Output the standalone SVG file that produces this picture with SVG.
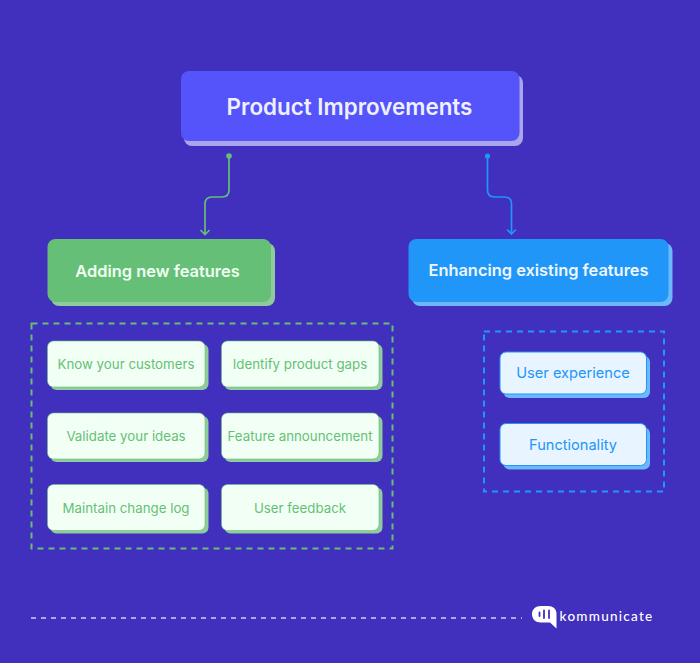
<svg xmlns="http://www.w3.org/2000/svg" width="700" height="663" viewBox="0 0 700 663">
<style>
text{font-family:Inter,"Liberation Sans",sans-serif;text-anchor:middle}
.g{fill:#66bf76;font-size:13.300px}
.b{fill:#2196f9;font-size:14.600px}
.h{font-weight:600;font-size:16.450px;fill:#effff3}
.gs{fill:#f2fff5;stroke:#66bf76;stroke-width:.6}
.gd{fill:#8fcb9b}
.bs{fill:#e8f4ff;stroke:#2196f9;stroke-width:1}
.bd{fill:#6db7fb}
.c{fill:none;stroke-width:1.700}
</style>
<defs>
<g id="greenCard"><rect class="gd" x="3" y="3" width="158" height="46" rx="6"/><rect class="gs" x="0" y="0" width="157.500" height="46" rx="6"/></g>
<g id="blueCard"><rect class="bd" x="3.500" y="4" width="146.500" height="42" rx="6"/><rect class="bs" x="0" y="0" width="146.500" height="42" rx="6"/></g>
</defs>
<rect width="700" height="663" fill="#412fbd"/>
<g id="connectors">
<path class="c" stroke="#66bf76" d="M229 156V190Q229 197 222 197H212Q205 197 205 204V234.500M200.500 230L205 234.500L209.500 230"/>
<circle cx="229" cy="156" r="2.800" fill="#66bf76"/>
<path class="c" stroke="#2196f9" d="M487.500 156V190Q487.500 197 494.500 197H504.500Q511.500 197 511.500 204V234M507 229.500L511.500 234L516 229.500"/>
<circle cx="487.500" cy="156" r="2.600" fill="#2196f9"/>
</g>
<g id="product-improvements">
<rect x="184" y="75" width="339" height="71" rx="8" fill="#aba5ec"/>
<rect x="181" y="71" width="338.500" height="70" rx="8" fill="#5454fa"/>
<text x="349.500" y="114.500" font-size="22.400" font-weight="600" fill="#eef0ff">Product Improvements</text>
</g>
<g id="adding-new-features">
<rect x="51" y="243" width="224" height="63" rx="8" fill="#8fcb9b"/>
<rect x="47.500" y="239" width="223.500" height="63" rx="8" fill="#66bf76"/>
<text class="h" x="157.500" y="276.500">Adding new features</text>
</g>
<g id="enhancing-existing-features">
<rect x="412" y="243" width="260.500" height="63" rx="8" fill="#6db7fb"/>
<rect x="408.500" y="239" width="260" height="63" rx="8" fill="#2196f9"/>
<text class="h" x="538.500" y="276" style="fill:#eef7ff;font-size:16.400px">Enhancing existing features</text>
</g>
<g id="green-group"><rect x="31.500" y="323.500" width="361" height="225" fill="none" stroke="#66bf76" stroke-width="2" stroke-dasharray="6 5"/></g>
<g id="blue-group"><rect x="484" y="331.500" width="180" height="160" fill="none" stroke="#2196f9" stroke-width="2" stroke-dasharray="6 5"/></g>
<g id="know-your-customers"><use href="#greenCard" x="47.500" y="341"/><text class="g" x="126" y="369">Know your customers</text></g>
<g id="identify-product-gaps"><use href="#greenCard" x="221.500" y="341"/><text class="g" x="300" y="369">Identify product gaps</text></g>
<g id="validate-your-ideas"><use href="#greenCard" x="47.500" y="413"/><text class="g" x="126" y="441">Validate your ideas</text></g>
<g id="feature-announcement"><use href="#greenCard" x="221.500" y="413"/><text class="g" x="300" y="441">Feature announcement</text></g>
<g id="maintain-change-log"><use href="#greenCard" x="47.500" y="484.500"/><text class="g" x="126" y="512.500">Maintain change log</text></g>
<g id="user-feedback"><use href="#greenCard" x="221.500" y="484.500"/><text class="g" x="300" y="512.500">User feedback</text></g>
<g id="user-experience"><use href="#blueCard" x="500" y="352"/><text class="b" x="573" y="378">User experience</text></g>
<g id="functionality"><use href="#blueCard" x="500" y="423.500"/><text class="b" x="573" y="449.500">Functionality</text></g>
<g id="footer">
<line x1="31" y1="618" x2="522" y2="618" stroke="#aba5ec" stroke-width="2" stroke-dasharray="5 5"/>
<path fill="#fff" d="M541 606H548C553 606 556.500 609 556.500 613.500V628.500L550 622.500H541C535.500 622.500 532 619 532 614C532 609.500 535.500 606 541 606Z"/>
<path stroke="#412fbd" stroke-width="1.800" stroke-linecap="round" d="M539.500 612.500V616M544 610.500V618M549 610.500V618"/>
<text x="606.500" y="621" font-size="13.500" font-weight="500" fill="#fff" style="letter-spacing:1.250px;font-family:Lato,'Liberation Sans',sans-serif">kommunicate</text>
</g>
</svg>
